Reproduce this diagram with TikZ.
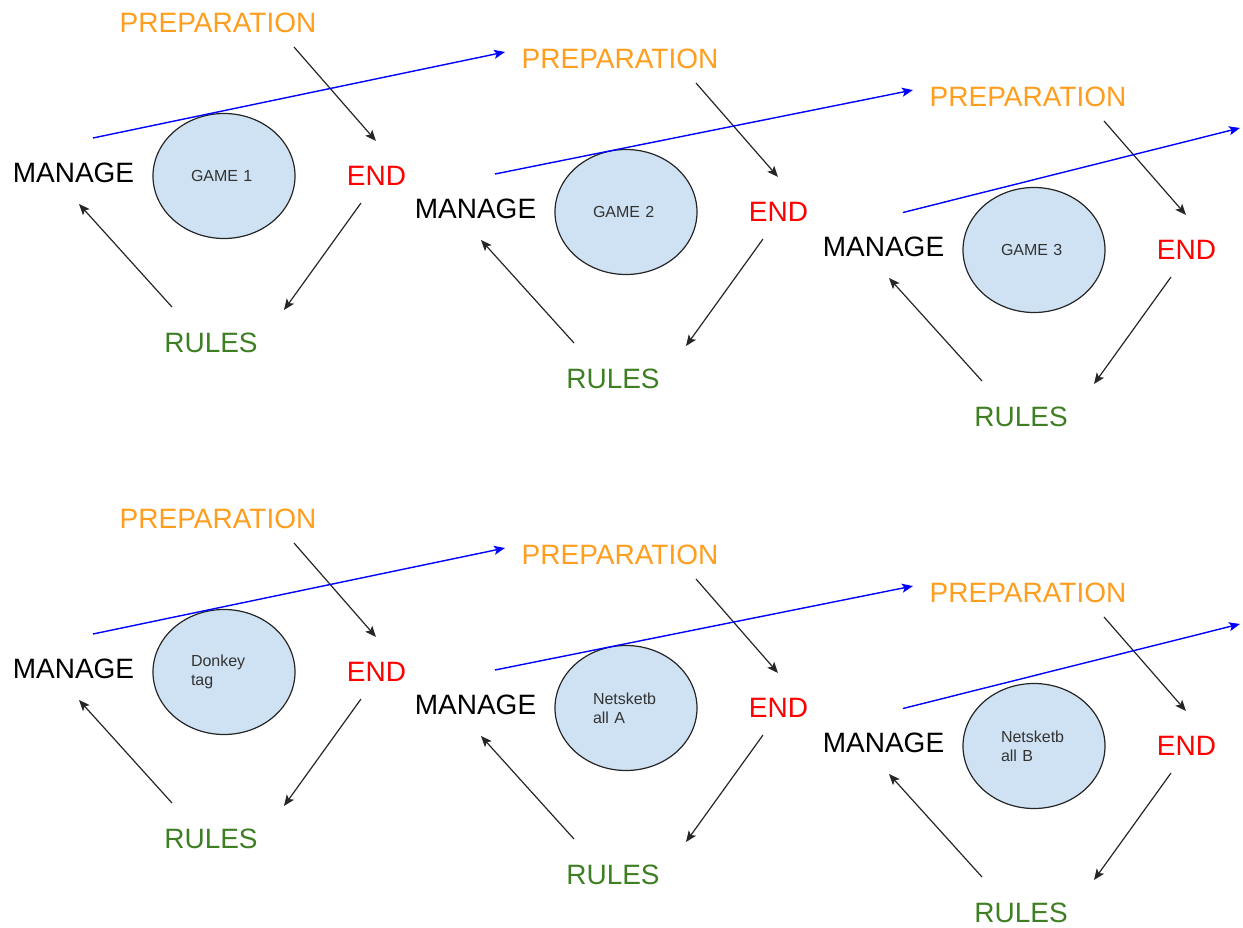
\documentclass[tikz,border=0pt]{standalone}
\usepackage{fontspec}
\setmainfont{Liberation Sans}
\usetikzlibrary{shapes.geometric, arrows.meta}

\definecolor{prepcol}{HTML}{FF9D1E}
\definecolor{endcol}{HTML}{FF0000}
\definecolor{rulecol}{HTML}{3F7F24}
\definecolor{gamefill}{HTML}{CFE2F3}

\tikzset{
    word/.style={font=\fontsize{28}{33}\selectfont, inner sep=0pt},
    game/.style={ellipse, draw=black!85, line width=1.2pt, fill=gamefill,
        minimum width=142pt, minimum height=125pt, inner sep=0pt,
        text width=66pt, align=left, text=black!80,
        font=\fontsize{16}{19}\selectfont},
    cyc/.style={-{Stealth[length=11pt, width=9pt, inset=2.5pt]}, line width=1.2pt, black!85},
    flow/.style={-{Stealth[length=11pt, width=9pt, inset=2.5pt]}, line width=1.4pt, blue}
}

\begin{document}
\begin{tikzpicture}[x=1pt, y=-1pt]
    \useasboundingbox (0,0) rectangle (1243,928);

    \foreach \i/\dx/\dy/\name in {1/0/0/{GAME 1}, 2/402/36/{GAME 2}, 3/810/74/{GAME 3},
        4/0/496/{Donkey\\tag}, 5/402/532/{Netsketb\\all A}, 6/810/570/{Netsketb\\all B}} {
        \begin{scope}[shift={(\dx,\dy)}]
            \node[word, text=prepcol] (prep\i) at (218, 23) {PREPARATION};
            \node[word] (man\i) at (73.5, 172.5) {MANAGE};
            \node[word, text=endcol] (end\i) at (376.5, 176) {END};
            \node[word, text=rulecol] (rule\i) at (211, 343) {RULES};
            \node[game] (game\i) at (224, 176) {\name};

            \draw[cyc] ([shift={(76,24)}]prep\i.center) -- ([shift={(-0.5,-35)}]end\i.center);
            \draw[cyc] ([shift={(-15.5,27)}]end\i.center) -- ([shift={(73,-33)}]rule\i.center);
            \draw[cyc] ([shift={(-39,-36)}]rule\i.center) -- ([shift={(5.5,31.5)}]man\i.center);
        \end{scope}
    }

    % loose ends on the right
    \coordinate (out3) at (1240, 128);
    \coordinate (out6) at (1240, 624);

    % MANAGE leads on to the next game
    \draw[flow] ([shift={(19.5,-34.5)}]man1.center) -- ([shift={(-115,-7)}]prep2.center);
    \draw[flow] ([shift={(19.5,-34.5)}]man2.center) -- ([shift={(-115,-7)}]prep3.center);
    \draw[flow] ([shift={(19.5,-34)}]man3.center) -- (out3);
    \draw[flow] ([shift={(19.5,-34.5)}]man4.center) -- ([shift={(-115,-7)}]prep5.center);
    \draw[flow] ([shift={(19.5,-34.5)}]man5.center) -- ([shift={(-115,-7)}]prep6.center);
    \draw[flow] ([shift={(19.5,-34)}]man6.center) -- (out6);
\end{tikzpicture}
\end{document}
